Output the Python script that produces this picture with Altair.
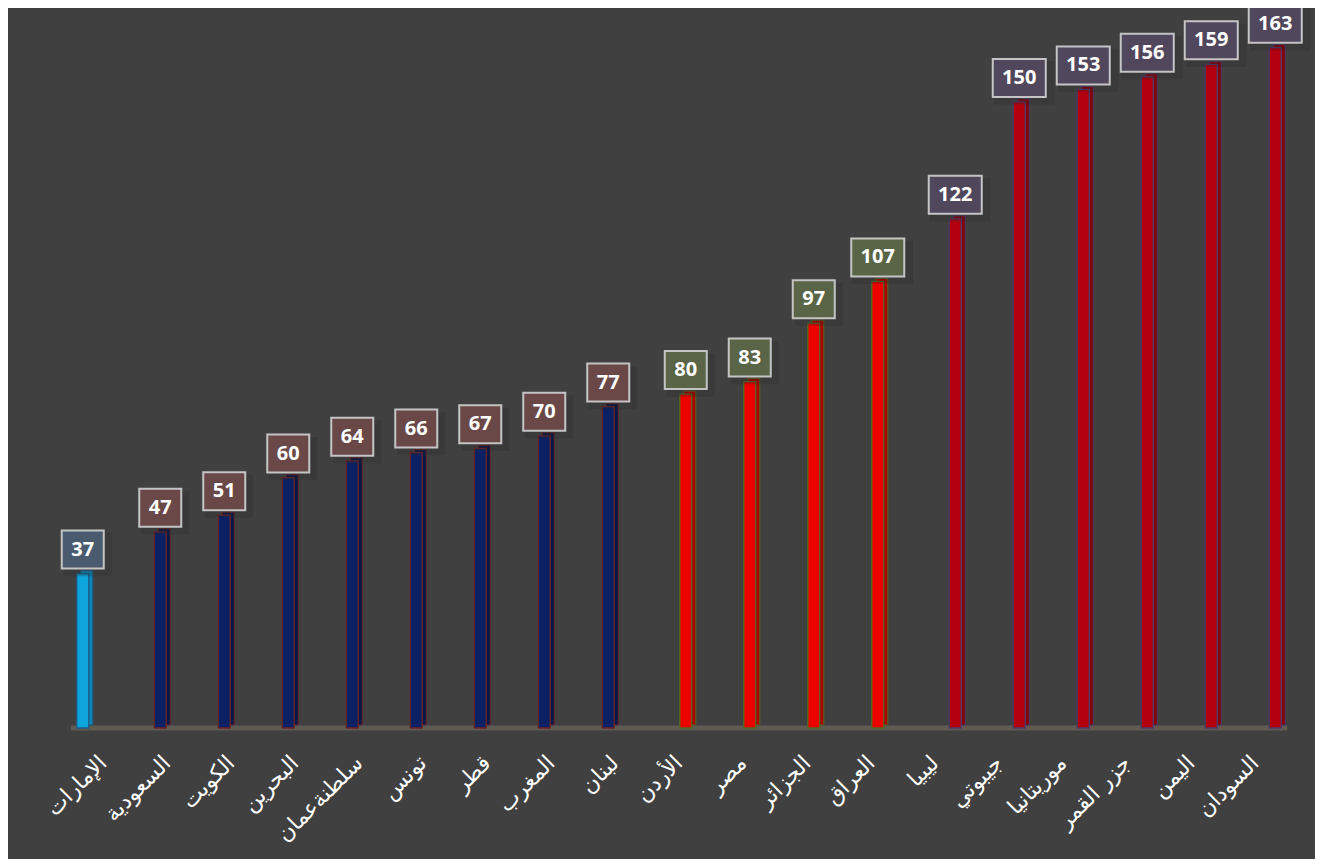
import altair as alt
import pandas as pd

categories = ["الإمارات", "السعودية", "الكويت", "البحرين", "سلطنةعمان", "تونس", "قطر",
              "المغرب", "لبنان", "الأردن", "مصر", "الجزائر", "العراق", "ليبيا", "جيبوتي",
              "موريتانيا", "جزر القمر", "اليمن", "السودان"]
values = [37, 47, 51, 60, 64, 66, 67, 70, 77, 80, 83, 97, 107, 122, 150, 153, 156, 159, 163]
groups = ["g0"] + ["g1"] * 8 + ["g2"] * 4 + ["g3"] * 6

df = pd.DataFrame({"country": categories, "value": values, "grp": groups})

grp_domain = ["g0", "g1", "g2", "g3"]
grp_shift = [-20.25, -6.75, 6.75, 20.25]
front_fill = ["#0ea5dc", "#0b2163", "#ec0000", "#b2000e"]
side_fill = ["#0a86b6", "#06174a", "#b00000", "#85000b"]
stroke_col = ["#1f5a85", "#6e2424", "#4f6a22", "#4e3b68"]
box_fill = ["#4a5b70", "#6a4848", "#5a6446", "#51475c"]

# label boxes drawn as rectangular custom symbols (2-digit and 3-digit widths)
box_small = "M-1,-0.905L1,-0.905L1,0.905L-1,0.905Z"   # 42 x 38
box_large = "M-1,-0.717L1,-0.717L1,0.717L-1,0.717Z"   # 53 x 38

yscale = alt.Scale(domain=[0, 172.5], nice=False, zero=True)

x = alt.X("country:N", sort=categories,
          scale=alt.Scale(paddingInner=0.15625, paddingOuter=0.078125),
          axis=alt.Axis(title=None, domain=False, ticks=False, labelAngle=-45,
                        labelAlign="right", labelBaseline="middle", labelPadding=31,
                        labelFontSize=22, labelColor="white", labelFont="DejaVu Sans",
                        labelLimit=300, labelOverlap=False, labelFlush=False, grid=False))
y = alt.Y("value:Q", scale=yscale, axis=None)

base = alt.Chart(df)

# floor of the 3-D chart: one contiguous strip made of per-category segments
floor = base.transform_calculate(f0="-0.6", f1="0.6").mark_bar(
    width=64.5, color="#5f5b52").encode(
    x=x, y=alt.Y("f0:Q", scale=yscale, axis=None), y2=alt.Y2("f1"))

backs, fronts, shadows, boxes, texts = [], [], [], [], []
for i, g in enumerate(grp_domain):
    sub = base.transform_filter(alt.datum.grp == g)
    off = grp_shift[i]
    backs.append(sub.mark_bar(width=12, xOffset=off + 4, yOffset=-3, strokeWidth=1,
                              fill=side_fill[i], stroke=stroke_col[i]).encode(x=x, y=y))
    fronts.append(sub.mark_bar(width=12, xOffset=off, strokeWidth=1.3,
                               fill=front_fill[i], stroke=stroke_col[i]).encode(x=x, y=y))
    gvals = [v for v, gg in zip(values, groups) if gg == g]
    for cond, shp, sz, present in (("datum.value < 100", box_small, 42 * 42, any(v < 100 for v in gvals)),
                                   ("datum.value >= 100", box_large, 53 * 53, any(v >= 100 for v in gvals))):
        if not present:
            continue
        part = sub.transform_filter(cond)
        shadows.append(part.mark_point(shape=shp, size=sz * 1.3, filled=True, fill="#262626",
                                       opacity=0.25, strokeWidth=0, xOffset=off + 5,
                                       yOffset=-19).encode(x=x, y=y))
        boxes.append(part.mark_point(shape=shp, size=sz, filled=True, fill=box_fill[i],
                                     opacity=1, stroke="#c4c4c4", strokeWidth=2,
                                     strokeOpacity=1, xOffset=off, yOffset=-24).encode(x=x, y=y))
    texts.append(sub.mark_text(xOffset=off, dy=-24, font="Open Sans", fontWeight="bold",
                               fontSize=20, color="white", baseline="middle").encode(
        x=x, y=y, text=alt.Text("value:Q")))

chart = alt.layer(floor, *backs, *fronts, *shadows, *boxes, *texts).properties(
    width=1216, height=720,
    autosize=alt.AutoSizeParams(type="none"),
    padding={"left": 63, "top": 0, "right": 28, "bottom": 131},
    background="#404040",
).configure_view(stroke=None)

chart.save("out.html", embed_options={"renderer": "svg", "actions": False})
